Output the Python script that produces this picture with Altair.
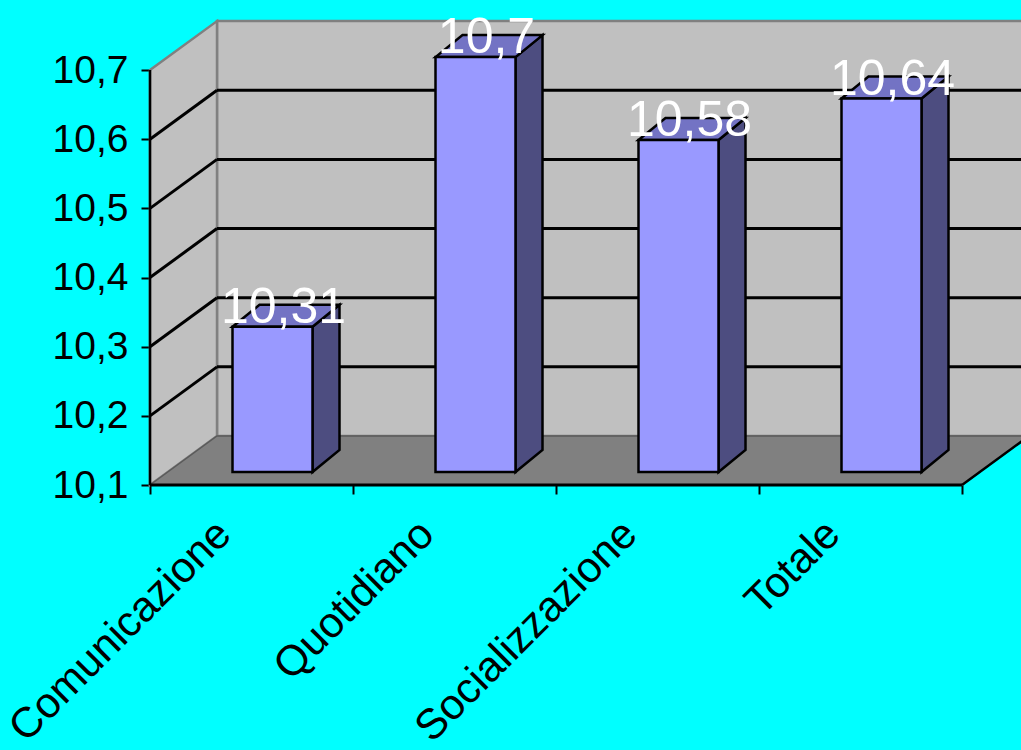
import altair as alt
import pandas as pd

categories = ["Comunicazione", "Quotidiano", "Socializzazione", "Totale"]
values = [10.31, 10.7, 10.58, 10.64]
y_ticks = [10.1, 10.2, 10.3, 10.4, 10.5, 10.6, 10.7]

# ---- layout (pixels -> data units) ----
PX_X = 203.0   # pixels per category band
PX_Y = 691.5   # pixels per value unit
W, H = 871, 485
LEFT = 150
YMIN, YTOP = y_ticks[0], y_ticks[-1]
n = len(categories)
DX, DY = 67 / PX_X, 49 / PX_Y          # wall depth
BX, BY = 21 / PX_X, 13 / PX_Y          # bar front offset
BW = 80 / PX_X                          # bar width
SDX, SDY = 27 / PX_X, 22 / PX_Y        # bar depth
LX = 11 / PX_X                          # label shift
FONT = "Liberation Sans"

xs = alt.Scale(domain=[0, W / PX_X], nice=False, zero=False)
ys = alt.Scale(domain=[YMIN, YMIN + H / PX_Y], nice=False, zero=False)

cat_arr = "[" + ",".join("'" + c + "'" for c in categories) + "]"
x_axis = alt.Axis(
    values=[i * 0.5 for i in range(2 * n + 1)], title="", domain=False, grid=False,
    tickSize=9, tickWidth=2,
    tickColor={"condition": {"test": "datum.value % 1 === 0", "value": "black"}, "value": "rgba(0,0,0,0)"},
    labelExpr="datum.value % 1 === 0 ? '' : " + cat_arr + "[floor(datum.value)]",
    labelAngle=315, labelAlign="right", labelBaseline="middle", labelFont=FONT,
    labelFontSize=42.5, labelColor="black", labelPadding=33, labelOffset=-28,
    labelOverlap=False, labelBound=False, labelFlush=False, labelLimit=2000,
)
y_axis = alt.Axis(
    values=y_ticks, title="", domain=False, grid=False, tickSize=9, tickWidth=2,
    tickColor="black", labelExpr="replace(format(datum.value, '.1f'), '.', ',')",
    labelFont=FONT, labelFontSize=39, labelColor="black", labelPadding=13,
    labelOverlap=False, labelBound=False, labelFlush=False, labelLimit=2000,
)


def X(f="x"):
    return alt.X(f + ":Q", scale=xs, axis=x_axis)


def Y(f="y"):
    return alt.Y(f + ":Q", scale=ys, axis=y_axis, stack=False)


# ---- walls and floor ----
back = pd.DataFrame({"x": [DX], "x2": [n + DX], "y": [YMIN + DY], "y2": [YTOP + DY]})
back_l = alt.Chart(back).mark_rect(fill="#C0C0C0", stroke="#808080", strokeWidth=2.5).encode(
    x=X(), x2="x2:Q", y=Y(), y2="y2:Q")

left = pd.DataFrame({"x": [0, DX], "y": [YTOP, YTOP + DY], "y2": [YMIN, YMIN + DY]})
left_l = alt.Chart(left).mark_area(fill="#C0C0C0", stroke="#808080", strokeWidth=2.5).encode(
    x=X(), y=Y(), y2="y2:Q")

floor = pd.DataFrame({"x": [0, DX, n, n + DX],
                      "y": [YMIN, YMIN + DY, YMIN + DY, YMIN + DY],
                      "y2": [YMIN, YMIN, YMIN, YMIN + DY]})
floor_l = alt.Chart(floor).mark_area(fill="#808080", stroke="#5a5a5a", strokeWidth=1.5).encode(
    x=X(), y=Y(), y2="y2:Q")

grid_vals = y_ticks[1:-1]
gback = pd.DataFrame({"x": [DX] * len(grid_vals), "x2": [n + DX] * len(grid_vals),
                      "y": [v + DY for v in grid_vals]})
gback_l = alt.Chart(gback).mark_rule(color="black", strokeWidth=3).encode(x=X(), x2="x2:Q", y=Y())

gl_rows = []
for v in grid_vals:
    gl_rows.append({"x": 0, "y": v, "g": v})
    gl_rows.append({"x": DX, "y": v + DY, "g": v})
gleft_l = alt.Chart(pd.DataFrame(gl_rows)).mark_line(color="black", strokeWidth=3).encode(
    x=X(), y=Y(), detail="g:N")

fedge = pd.DataFrame({"x": [n, n + DX], "y": [YMIN, YMIN + DY]})
fedge_l = alt.Chart(fedge).mark_line(color="black", strokeWidth=2.5).encode(x=X(), y=Y())

yax = pd.DataFrame({"x": [0], "y": [YMIN], "y2": [YTOP]})
yax_l = alt.Chart(yax).mark_rule(color="black", strokeWidth=2.5).encode(x=X(), y=Y(), y2="y2:Q")
xax = pd.DataFrame({"x": [0], "x2": [n], "y": [YMIN]})
xax_l = alt.Chart(xax).mark_rule(color="black", strokeWidth=3).encode(x=X(), x2="x2:Q", y=Y())

# ---- bars ----
front_rows, side_rows, top_rows, lab_rows = [], [], [], []
for i, (c, v) in enumerate(zip(categories, values)):
    xl = i + 0.5 + BX - BW / 2
    xr = xl + BW
    b = YMIN + BY
    t = v + BY
    front_rows.append({"x": xl, "x2": xr, "y": b, "y2": t, "c": c})
    side_rows += [{"x": xr, "y": t, "y2": b, "c": c},
                  {"x": xr + SDX, "y": t + SDY, "y2": b + SDY, "c": c}]
    top_rows += [{"x": xl, "y": t, "y2": t, "c": c},
                 {"x": xl + SDX, "y": t + SDY, "y2": t, "c": c},
                 {"x": xr, "y": t + SDY, "y2": t, "c": c},
                 {"x": xr + SDX, "y": t + SDY, "y2": t + SDY, "c": c}]
    lab_rows.append({"x": i + 0.5 + BX + LX, "y": t, "v": v})

side_l = alt.Chart(pd.DataFrame(side_rows)).mark_area(
    fill="#4D4D80", stroke="black", strokeWidth=2.5, strokeJoin="miter").encode(
    x=X(), y=Y(), y2="y2:Q", detail="c:N")
top_l = alt.Chart(pd.DataFrame(top_rows)).mark_area(
    fill="#7373C4", stroke="black", strokeWidth=2.5, strokeJoin="miter").encode(
    x=X(), y=Y(), y2="y2:Q", detail="c:N")
front_l = alt.Chart(pd.DataFrame(front_rows)).mark_rect(
    fill="#9999FF", stroke="black", strokeWidth=2.5).encode(
    x=X(), x2="x2:Q", y=Y(), y2="y2:Q")

lab_l = alt.Chart(pd.DataFrame(lab_rows)).transform_calculate(
    lbl="replace(toString(datum.v), '.', ',')"
).mark_text(color="white", font=FONT, fontSize=50, align="center", baseline="alphabetic", dy=-4).encode(
    x=X(), y=Y(), text="lbl:N")

chart = alt.layer(
    back_l, left_l, floor_l, gback_l, gleft_l, fedge_l, yax_l, xax_l,
    side_l, top_l, front_l, lab_l,
).properties(
    width=W, height=H, background="#00FFFF",
    padding={"left": LEFT, "top": 0, "right": 0, "bottom": 750 - H},
    autosize=alt.AutoSizeParams(type="none"),
).configure_view(strokeWidth=0)

chart.save("out.html", embed_options={"renderer": "svg", "actions": False})
